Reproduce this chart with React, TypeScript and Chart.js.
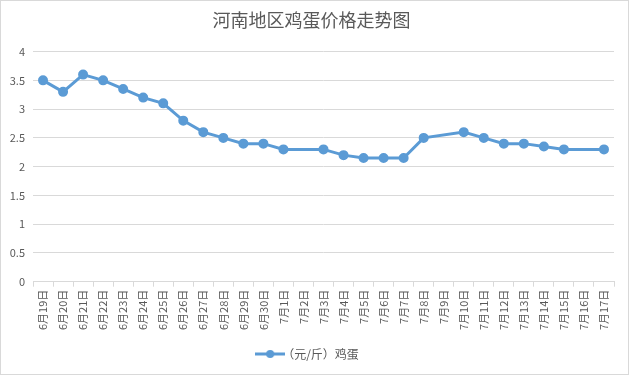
import React, { useEffect, useRef } from "react";
import { Chart, registerables } from "chart.js";

Chart.register(...registerables);

const categories = [
  "6月19日", "6月20日", "6月21日", "6月22日", "6月23日", "6月24日", "6月25日",
  "6月26日", "6月27日", "6月28日", "6月29日", "6月30日",
  "7月1日", "7月2日", "7月3日", "7月4日", "7月5日", "7月6日", "7月7日", "7月8日",
  "7月9日", "7月10日", "7月11日", "7月12日", "7月13日", "7月14日", "7月15日",
  "7月16日", "7月17日",
];

const eggPrices: (number | null)[] = [
  3.5, 3.3, 3.6, 3.5, 3.35, 3.2, 3.1,
  2.8, 2.6, 2.5, 2.4, 2.4,
  2.3, null, 2.3, 2.2, 2.15, 2.15, 2.15, 2.5,
  null, 2.6, 2.5, 2.4, 2.4, 2.35, 2.3,
  null, 2.3,
];

const seriesName = "（元/斤）鸡蛋";
const chartTitle = "河南地区鸡蛋价格走势图";

const FONT = "'Noto Sans CJK SC', 'Noto Sans', sans-serif";
const TEXT = "#595959";
const GRID = "#d9d9d9";
const BLUE = "#5B9BD5";

function legendIcon(): HTMLCanvasElement {
  const c = document.createElement("canvas");
  c.width = 30;
  c.height = 10;
  const ctx = c.getContext("2d")!;
  ctx.strokeStyle = BLUE;
  ctx.lineWidth = 3;
  ctx.beginPath();
  ctx.moveTo(0, 5);
  ctx.lineTo(30, 5);
  ctx.stroke();
  ctx.fillStyle = BLUE;
  ctx.beginPath();
  ctx.arc(15, 5, 4, 0, Math.PI * 2);
  ctx.fill();
  return c;
}

export default function App() {
  const ref = useRef<HTMLCanvasElement>(null);
  useEffect(() => {
    document.body.style.margin = "0";
    const icon = legendIcon();
    const chart = new Chart(ref.current!, {
      type: "line",
      data: {
        labels: categories,
        datasets: [
          {
            label: seriesName,
            data: eggPrices,
            borderColor: BLUE,
            backgroundColor: BLUE,
            borderWidth: 3,
            pointRadius: 3.5,
            pointHoverRadius: 3.5,
            pointBackgroundColor: BLUE,
            pointBorderColor: BLUE,
            spanGaps: true,
            tension: 0,
            pointStyle: "circle",
          },
        ],
      },
      options: {
        animation: false,
        responsive: false,
        layout: { padding: { left: 8, right: 14, top: 0, bottom: 4 } },
        plugins: {
          title: {
            display: true,
            text: chartTitle,
            color: TEXT,
            font: { family: FONT, size: 18, weight: "normal" },
            padding: { top: 8, bottom: 21 },
          },
          legend: {
            position: "bottom",
            labels: {
              usePointStyle: true,
              pointStyle: icon as any,
              color: TEXT,
              font: { family: FONT, size: 12 },
              padding: 12,
            },
          },
          tooltip: { enabled: false },
        },
        scales: {
          x: {
            offset: true,
            grid: {
              offset: true,
              drawOnChartArea: false,
              drawTicks: true,
              tickLength: 5,
              color: GRID,
            },
            border: { color: GRID },
            ticks: {
              autoSkip: false,
              maxRotation: 90,
              minRotation: 90,
              color: TEXT,
              font: { family: FONT, size: 11 },
              padding: 3,
            },
            afterFit: (s: any) => {
              s.height += 3;
            },
          },
          y: {
            min: 0,
            max: 4,
            ticks: {
              stepSize: 0.5,
              color: TEXT,
              font: { family: FONT, size: 11 },
              padding: 8,
              callback: (v: any) => String(Number(v)),
            },
            grid: { color: GRID, drawTicks: false },
            border: { display: false },
            afterFit: (s: any) => {
              s.width = 24;
            },
          },
        },
      },
    });
    return () => chart.destroy();
  }, []);
  return (
    <div
      style={{
        width: 629,
        height: 375,
        border: `1px solid ${GRID}`,
        boxSizing: "border-box",
        background: "#fff",
      }}
    >
      <canvas ref={ref} width={627} height={373} style={{ display: "block" }} />
    </div>
  );
}
